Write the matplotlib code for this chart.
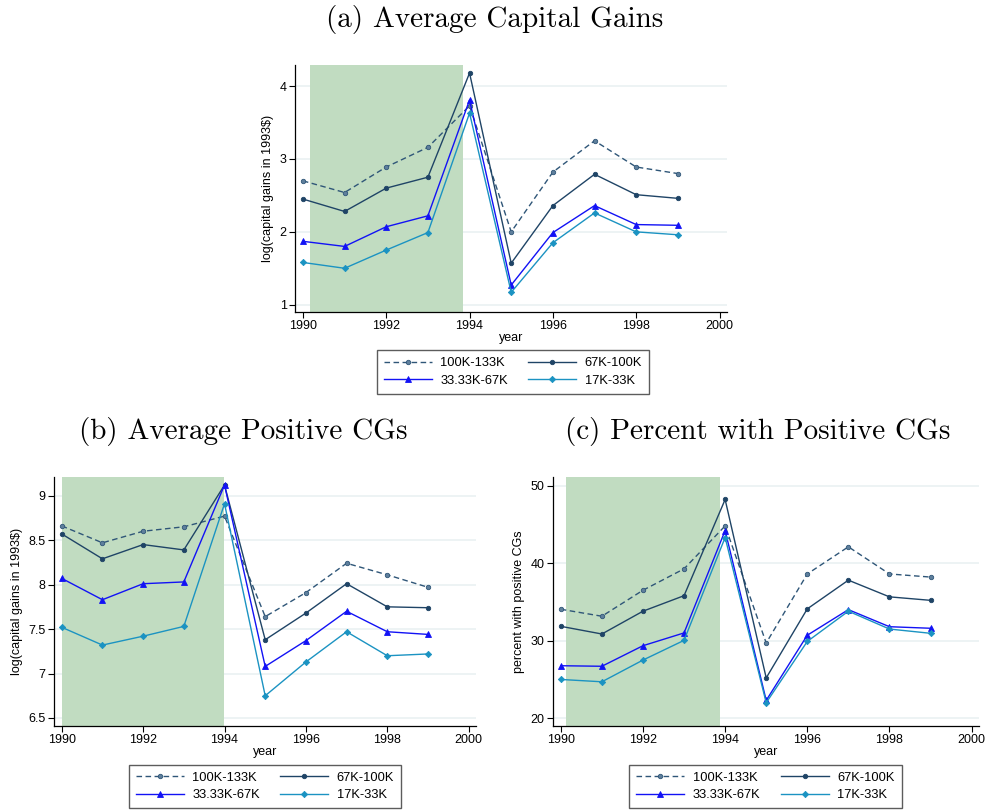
import matplotlib
matplotlib.use("Agg")
import matplotlib.pyplot as plt
import numpy as np

years = [1990, 1991, 1992, 1993, 1994, 1995, 1996, 1997, 1998, 1999]
labels = ["100K-133K", "67K-100K", "33.33K-67K", "17K-33K"]

# (a) average capital gains, log
a_100 = [2.70, 2.54, 2.89, 3.16, 3.73, 2.00, 2.82, 3.25, 2.89, 2.80]
a_67 = [2.45, 2.28, 2.60, 2.75, 4.18, 1.57, 2.36, 2.79, 2.51, 2.46]
a_33 = [1.87, 1.80, 2.07, 2.22, 3.81, 1.27, 1.99, 2.36, 2.10, 2.09]
a_17 = [1.58, 1.50, 1.75, 1.99, 3.63, 1.17, 1.85, 2.26, 2.00, 1.96]

# (b) average positive CGs, log
b_100 = [8.66, 8.47, 8.60, 8.65, 8.77, 7.64, 7.91, 8.24, 8.11, 7.97]
b_67 = [8.57, 8.29, 8.45, 8.39, 9.12, 7.38, 7.68, 8.01, 7.75, 7.74]
b_33 = [8.07, 7.83, 8.01, 8.03, 9.12, 7.08, 7.37, 7.70, 7.47, 7.44]
b_17 = [7.52, 7.32, 7.42, 7.53, 8.91, 6.75, 7.13, 7.47, 7.20, 7.22]

# (c) percent with positive CGs
c_100 = [34.05, 33.15, 36.5, 39.26, 44.8, 29.7, 38.6, 42.1, 38.6, 38.2]
c_67 = [31.85, 30.86, 33.8, 35.8, 48.2, 25.2, 34.1, 37.8, 35.65, 35.2]
c_33 = [26.77, 26.7, 29.35, 31.0, 44.2, 22.3, 30.7, 34.0, 31.8, 31.6]
c_17 = [25.0, 24.7, 27.5, 30.04, 43.3, 22.0, 29.9, 33.8, 31.5, 30.95]

colors = ["#2f5678", "#1f4466", "#1212f5", "#1b93c2"]
styles = ["--", "-", "-", "-"]
markers = ["o", "o", "^", "D"]
msizes = [3.2, 3.2, 3.8, 3.2]

plt.rcParams["font.family"] = ["Liberation Sans", "DejaVu Sans"]

fig = plt.figure(figsize=(9.87, 8.10), dpi=100)
W, H = 987.0, 810.0


def make_ax(l, t, r, b):
    return fig.add_axes([l / W, 1 - b / H, (r - l) / W, (b - t) / H])


def panel(ax, series, ylim, yticks, ylabel, shade, ticklabels=None):
    for yt in yticks:
        ax.axhline(yt, color="#eaf1f2", lw=1.2, zorder=0.2)
    ax.axvspan(shade[0], shade[1], color="#c1dcc1", zorder=0.5, lw=0)
    for s, c, ls, m, ms, lab in zip(series, colors, styles, markers, msizes, labels):
        mfc = "#5f7f9c" if ls == "--" else c
        ax.plot(years, s, color=c, ls=ls, lw=1.0, marker=m, ms=ms,
                mfc=mfc, mec=c, mew=0.6, label=lab,
                dashes=(4, 2.5) if ls == "--" else (None, None), zorder=3)
    ax.set_xlim(1989.81, 2000.18)
    ax.set_ylim(*ylim)
    ax.set_xticks([1990, 1992, 1994, 1996, 1998, 2000])
    ax.set_yticks(yticks)
    if ticklabels is not None:
        ax.set_yticklabels(ticklabels)
    ax.tick_params(labelsize=9, length=4, width=0.8, direction="out", pad=2)
    ax.set_xlabel("year", fontsize=9, labelpad=0)
    ax.set_ylabel(ylabel, fontsize=9, labelpad=4)
    for sp in ["top", "right"]:
        ax.spines[sp].set_visible(False)
    for sp in ["left", "bottom"]:
        ax.spines[sp].set_linewidth(0.9)
    ax.set_facecolor("white")


def legend_box(ax, l, t, r, b):
    h, lb = ax.get_legend_handles_labels()
    order = [0, 2, 1, 3]
    leg = fig.legend([h[i] for i in order], [lb[i] for i in order],
                     ncol=2, fontsize=9.3, frameon=True, fancybox=False,
                     edgecolor="#333333", handlelength=3.7, columnspacing=1.6,
                     borderpad=0.55, labelspacing=0.4, handletextpad=0.65,
                     borderaxespad=0, loc="center",
                     bbox_to_anchor=((l + r) / 2 / W, 1 - (t + b) / 2 / H))
    leg.get_frame().set_linewidth(1.0)


ax1 = make_ax(295, 65, 727, 312)
panel(ax1, [a_100, a_67, a_33, a_17], (0.9, 4.29), [1, 2, 3, 4],
      "log(capital gains in 1993$)", (1990.16, 1993.85))
legend_box(ax1, 380, 350, 646, 394)

ax2 = make_ax(54, 477, 476, 726)
panel(ax2, [b_100, b_67, b_33, b_17], (6.41, 9.21), [6.5, 7, 7.5, 8, 8.5, 9],
      "log(capital gains in 1993$)", (1990.0, 1993.98),
      ["6.5", "7", "7.5", "8", "8.5", "9"])
legend_box(ax2, 133, 766, 397, 807)

ax3 = make_ax(553, 477, 979, 726)
panel(ax3, [c_100, c_67, c_33, c_17], (19.0, 51.1), [20, 30, 40, 50],
      "percent with positive CGs", (1990.13, 1993.87))
legend_box(ax3, 634, 766, 897, 807)

tfont = dict(fontsize=21, fontfamily="cmr10", ha="center", va="center")
fig.text(495 / W, 1 - 19 / H, "(a) Average Capital Gains", **tfont)
fig.text(243 / W, 1 - 431 / H, "(b) Average Positive CGs", **tfont)
fig.text(758 / W, 1 - 431 / H, "(c) Percent with Positive CGs", **tfont)

fig.savefig("out.png", dpi=100, facecolor="white")
